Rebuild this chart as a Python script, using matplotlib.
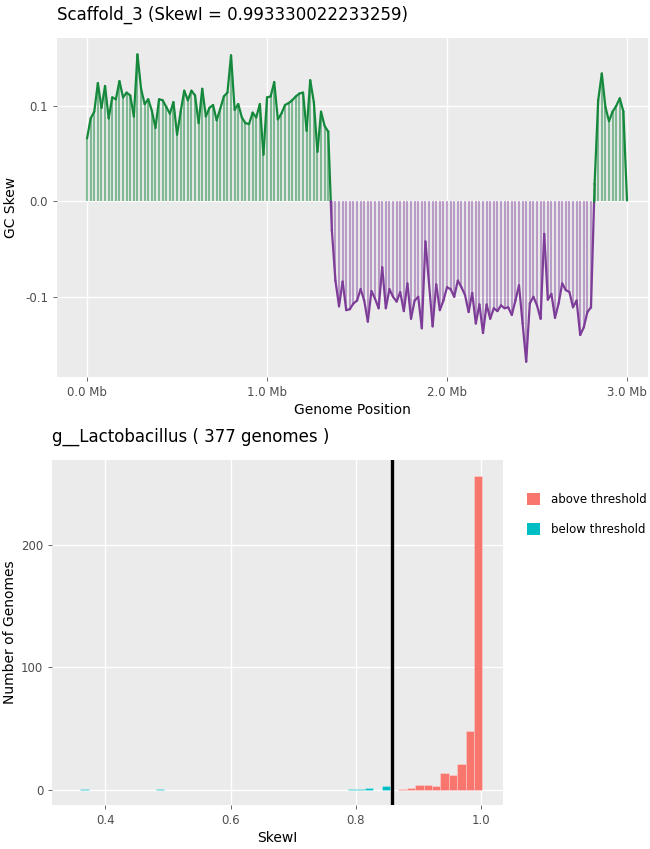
import numpy as np
import matplotlib
matplotlib.use("Agg")
import matplotlib.pyplot as plt
from matplotlib.patches import Patch

# ---- GC skew per 20 kb window along Scaffold_3 ----
window_mb = 0.02
gc_skew = [
    0.066, 0.087, 0.094, 0.124, 0.098, 0.121, 0.087, 0.109, 0.107, 0.126,
    0.109, 0.114, 0.111, 0.089, 0.154, 0.118, 0.102, 0.107, 0.095, 0.077,
    0.107, 0.106, 0.099, 0.092, 0.104, 0.070, 0.094, 0.116, 0.106, 0.116,
    0.111, 0.082, 0.118, 0.089, 0.098, 0.101, 0.085, 0.097, 0.110, 0.114,
    0.153, 0.096, 0.102, 0.088, 0.082, 0.081, 0.093, 0.088, 0.102, 0.049,
    0.109, 0.110, 0.125, 0.086, 0.092, 0.101, 0.103, 0.106, 0.110, 0.113,
    0.114, 0.074, 0.127, 0.104, 0.052, 0.094, 0.079, 0.073,
    -0.030, -0.083, -0.110, -0.084, -0.114, -0.113, -0.107, -0.104, -0.092, -0.104,
    -0.126, -0.094, -0.102, -0.112, -0.069, -0.112, -0.092, -0.100, -0.105, -0.095,
    -0.115, -0.086, -0.123, -0.104, -0.100, -0.133, -0.042, -0.086, -0.131, -0.087,
    -0.114, -0.104, -0.090, -0.092, -0.100, -0.083, -0.090, -0.098, -0.116, -0.096,
    -0.128, -0.108, -0.138, -0.108, -0.123, -0.112, -0.115, -0.109, -0.112, -0.111,
    -0.119, -0.104, -0.088, -0.128, -0.168, -0.107, -0.100, -0.109, -0.123, -0.034,
    -0.103, -0.097, -0.122, -0.107, -0.086, -0.093, -0.095, -0.111, -0.104, -0.140,
    -0.132, -0.116, -0.111,
    0.018, 0.106, 0.134, 0.099, 0.084, 0.094, 0.100, 0.108, 0.094, 0.001,
]
pos_ticks = [0.0, 1.0, 2.0, 3.0]
pos_labels = ["0.0 Mb", "1.0 Mb", "2.0 Mb", "3.0 Mb"]
skew_ticks = [-0.1, 0.0, 0.1]
skew_labels = ["-0.1", "0.0", "0.1"]

# ---- SkewI histogram for g__Lactobacillus ----
bin_width = 0.01339
above_bins = [0.8751, 0.8885, 0.9019, 0.9153, 0.9287, 0.9421, 0.9555, 0.9689, 0.9823, 0.9957]
above_counts = [1, 2, 4, 4, 3, 14, 12, 21, 48, 256]
below_bins = [0.3663, 0.4868, 0.7948, 0.8082, 0.8216, 0.8484]
below_counts = [1, 1, 1, 1, 2, 3]
threshold = 0.858
hist_xticks = [0.4, 0.6, 0.8, 1.0]
hist_yticks = [0, 100, 200]

GREEN = "#14893c"
PURPLE = "#7d3c98"
RED = "#f8766d"
CYAN = "#00bfc4"
PANEL = "#ebebeb"
TICK = "#4d4d4d"

plt.rcParams["font.family"] = ["DejaVu Sans"]

fig = plt.figure(figsize=(6.5, 8.49), dpi=100)


def style(ax):
    ax.set_facecolor(PANEL)
    for s in ax.spines.values():
        s.set_visible(False)
    ax.grid(True, color="white", linewidth=1.0)
    ax.set_axisbelow(True)
    ax.tick_params(colors=TICK, labelsize=8.5, length=3, width=0.6)
    for lab in ax.get_xticklabels() + ax.get_yticklabels():
        lab.set_color(TICK)


# ---------------- top panel ----------------
ax1 = fig.add_axes([0.0877, 0.556, 0.9093, 0.399])
y = np.array(gc_skew)
x = np.arange(len(y)) * window_mb

pos = y >= 0
ax1.vlines(x[pos], 0, y[pos], color=GREEN, alpha=0.5, linewidth=1.5, zorder=2)
ax1.vlines(x[~pos], 0, y[~pos], color=PURPLE, alpha=0.45, linewidth=1.5, zorder=2)

# line coloured by sign, split where it crosses zero
for i in range(len(y) - 1):
    x0, x1, y0, y1 = x[i], x[i + 1], y[i], y[i + 1]
    if (y0 >= 0) == (y1 >= 0):
        ax1.plot([x0, x1], [y0, y1], color=GREEN if y0 >= 0 else PURPLE,
                 linewidth=1.6, zorder=3, solid_capstyle="round")
    else:
        xc = x0 + (x1 - x0) * y0 / (y0 - y1)
        ax1.plot([x0, xc], [y0, 0], color=GREEN if y0 >= 0 else PURPLE,
                 linewidth=1.6, zorder=3)
        ax1.plot([xc, x1], [0, y1], color=GREEN if y1 >= 0 else PURPLE,
                 linewidth=1.6, zorder=3)

ax1.set_xlim(-0.167, 3.117)
ax1.set_ylim(-0.184, 0.171)
ax1.set_xticks(pos_ticks)
ax1.set_xticklabels(pos_labels)
ax1.set_yticks(skew_ticks)
ax1.set_yticklabels(skew_labels)
style(ax1)
ax1.set_xlabel("Genome Position", fontsize=10, labelpad=3)
ax1.set_ylabel("GC Skew", fontsize=10, labelpad=5)
fig.text(0.0877, 0.982, "Scaffold_3 (SkewI = 0.993330022233259)",
         fontsize=12, ha="left", va="center")

# ---------------- bottom panel ----------------
ax2 = fig.add_axes([0.0805, 0.0518, 0.6929, 0.4064])
ax2.bar(above_bins, above_counts, width=bin_width, color=RED,
        edgecolor=(1, 1, 1, 0.35), linewidth=0.5, zorder=2)
ax2.bar(below_bins, below_counts, width=bin_width, color=CYAN,
        edgecolor=(1, 1, 1, 0.35), linewidth=0.5, zorder=2)
ax2.axvline(threshold, color="black", linewidth=2.4, zorder=3)

ax2.set_xlim(0.315, 1.035)
ax2.set_ylim(-12.2, 269)
ax2.set_xticks(hist_xticks)
ax2.set_xticklabels(["0.4", "0.6", "0.8", "1.0"])
ax2.set_yticks(hist_yticks)
style(ax2)
ax2.set_xlabel("SkewI", fontsize=10, labelpad=3)
ax2.set_ylabel("Number of Genomes", fontsize=10, labelpad=3)
fig.text(0.0805, 0.485, "g__Lactobacillus ( 377 genomes )",
         fontsize=12, ha="left", va="center")

handles = [Patch(facecolor=RED, label="above threshold"),
           Patch(facecolor=CYAN, label="below threshold")]
fig.legend(handles=handles, loc="upper left", bbox_to_anchor=(0.803, 0.425),
           frameon=False, fontsize=8.5, handlelength=1.1, handleheight=1.1,
           handletextpad=1.0, labelspacing=1.45, borderaxespad=0)

fig.savefig("out.png", dpi=100)
